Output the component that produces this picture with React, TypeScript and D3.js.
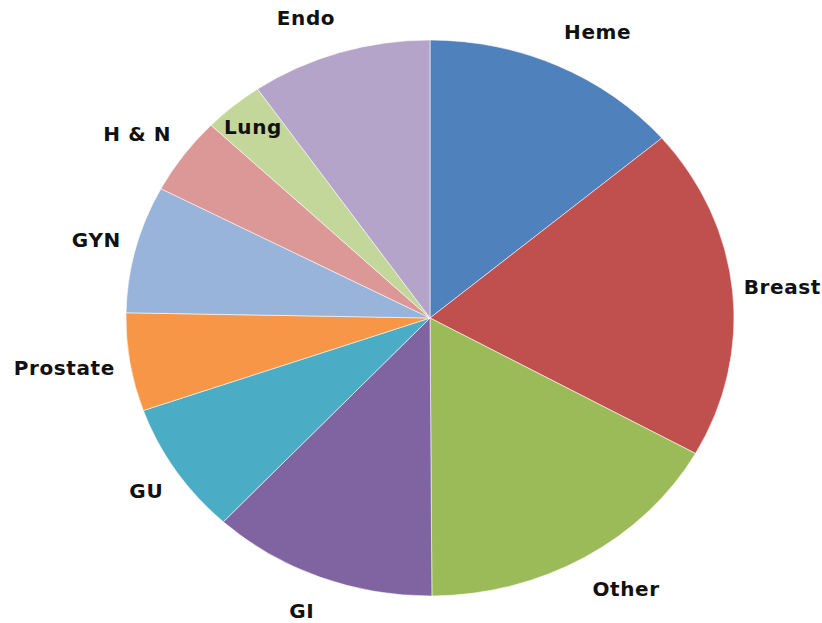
import React from "react";
import * as d3 from "d3";

const categories = ["Heme", "Breast", "Other", "GI", "GU", "Prostate", "GYN", "H & N", "Lung", "Endo"];
const values = [13.8, 19.3, 16.8, 12.0, 7.7, 5.7, 7.4, 4.5, 3.2, 9.6];
const colors = ["#4F81BD", "#C0504D", "#9BBB59", "#8064A2", "#4BACC6", "#F79646", "#98B4DA", "#DB9896", "#C4D79B", "#B4A4C9"];

const W = 822;
const H = 623;
const CX = 430;
const CY = 318;
const RX = 304;
const RY = 278;
const FONT_SIZE = 20;
const LETTER_SPACING = 0.6;
const FONT = "DejaVu Sans, sans-serif";

function measure(text: string): number {
  if (typeof document === "undefined") return text.length * FONT_SIZE * 0.62;
  const c = document.createElement("canvas").getContext("2d");
  if (!c) return text.length * FONT_SIZE * 0.62;
  c.font = `bold ${FONT_SIZE}px DejaVu Sans`;
  return c.measureText(text).width + LETTER_SPACING * text.length;
}

export default function App() {
  const pie = d3.pie<number>().sort(null).value((d) => d);
  const arcs = pie(values);
  const arc = d3.arc<d3.PieArcDatum<number>>().innerRadius(0).outerRadius(RY);
  const sx = RX / RY;

  return (
    <svg width={W} height={H} style={{ position: "absolute", left: 0, top: 0, background: "#fff" }}>
      <g transform={`translate(${CX},${CY}) scale(${sx},1)`}>
        {arcs.map((a, i) => (
          <path
            key={categories[i]}
            d={arc(a) || ""}
            fill={colors[i]}
            stroke="#ffffff"
            strokeOpacity={0.55}
            strokeWidth={1}
            vectorEffect="non-scaling-stroke"
          />
        ))}
      </g>
      <g transform={`translate(${CX},${CY})`}>
        {arcs.map((a, i) => {
          const name = categories[i];
          const inside = name === "Lung";
          const fx = inside ? 0.9 : 1.05;
          const fy = inside ? 0.9 : 1.105;
          const mid = (a.startAngle + a.endAngle) / 2;
          const s = Math.sin(mid);
          const c = -Math.cos(mid);
          let x = RX * fx * s;
          let y = RY * fy * c;
          if (!inside) {
            const w = measure(name);
            const h = 15;
            x += (w / 2) * Math.sign(s);
            y += (h / 2) * c;
            x = Math.min(x, W - CX - w / 2 - 1);
            x = Math.max(x, -CX + w / 2 + 1);
          }
          return (
            <text
              key={name}
              x={x}
              y={y}
              textAnchor="middle"
              dominantBaseline="central"
              fontFamily={FONT}
              fontWeight="bold"
              fontSize={FONT_SIZE}
              letterSpacing={LETTER_SPACING}
              fill="#111"
            >
              {name}
            </text>
          );
        })}
      </g>
    </svg>
  );
}
